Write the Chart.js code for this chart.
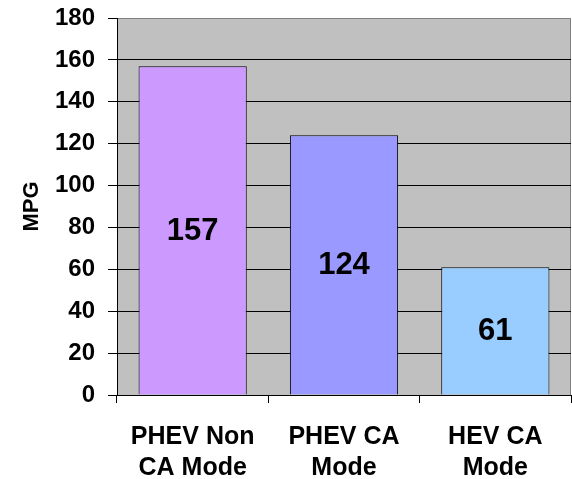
<!DOCTYPE html>
<html>
<head>
<meta charset="utf-8">
<script src="https://cdn.jsdelivr.net/npm/chart.js@4/dist/chart.umd.min.js"></script>
<style>
  body { margin: 0; background: #fff; }
  #wrap { width: 572px; height: 479px; }
</style>
</head>
<body>
<div id="wrap"><canvas id="bar"></canvas></div>
<script>
/* DATA */
const categories = [["PHEV Non", "CA Mode"], ["PHEV CA", "Mode"], ["HEV CA", "Mode"]];
const mpgValues = [157, 124, 61];
const barColors = ["#CC99FF", "#9999FF", "#99CCFF"];

/* plot area background + frame */
const plotBg = {
  id: "plotBg",
  beforeDraw(chart) {
    const { ctx, chartArea: a } = chart;
    ctx.save();
    ctx.fillStyle = "#C0C0C0";
    ctx.fillRect(a.left, a.top, a.right - a.left, a.bottom - a.top);
    ctx.strokeStyle = "#808080";
    ctx.lineWidth = 1;
    ctx.strokeRect(a.left + 0.5, a.top + 0.5, a.right - a.left - 1, a.bottom - a.top);
    ctx.restore();
  }
};

/* value labels in the middle of each bar */
const valueLabels = {
  id: "valueLabels",
  afterDatasetsDraw(chart) {
    const ctx = chart.ctx;
    const meta = chart.getDatasetMeta(0);
    ctx.save();
    ctx.font = "bold 31px 'Liberation Sans', Arial, sans-serif";
    ctx.fillStyle = "#000";
    ctx.textAlign = "center";
    ctx.textBaseline = "middle";
    meta.data.forEach((bar, i) => {
      ctx.fillText(String(mpgValues[i]), bar.x, (bar.y + bar.base) / 2 + 1);
    });
    ctx.restore();
  }
};

const barCtx = document.getElementById("bar");
new Chart(barCtx, {
  type: "bar",
  data: {
    labels: categories,
    datasets: [{
      data: mpgValues,
      backgroundColor: barColors,
      borderColor: "#000",
      borderWidth: 1,
      barPercentage: 0.715,
      categoryPercentage: 1
    }]
  },
  options: {
    responsive: true,
    maintainAspectRatio: false,
    animation: false,
    layout: {
      padding: { top: 18, right: 1, bottom: 0, left: 0 }
    },
    scales: {
      x: {
        afterFit: function (scale) { scale.height = 84; },
        border: { color: "#000" },
        grid: {
          offset: true,
          drawOnChartArea: false,
          color: "#000",
          tickLength: 8
        },
        ticks: {
          color: "#000",
          padding: 18,
          maxRotation: 0,
          font: { family: "'Liberation Sans', Arial, sans-serif", size: 25, weight: "bold", lineHeight: 1.25 }
        }
      },
      y: {
        min: 0,
        max: 180,
        afterFit: function (scale) {
          scale.width = 117;
          scale.paddingTop = 0;
          scale.paddingBottom = 0;
        },
        border: { color: "#000" },
        grid: {
          color: function (c) { return c.tick && c.tick.value === 180 ? "#808080" : "#000"; },
          tickColor: "#000",
          tickLength: 9
        },
        ticks: {
          stepSize: 20,
          color: "#000",
          padding: 13,
          font: { family: "'Liberation Sans', Arial, sans-serif", size: 24, weight: "bold" }
        },
        title: {
          display: true,
          text: "MPG",
          color: "#000",
          padding: { top: 19, bottom: 0 },
          font: { family: "'Liberation Sans', Arial, sans-serif", size: 22, weight: "bold" }
        }
      }
    },
    plugins: {
      legend: { display: false },
      tooltip: { enabled: false }
    }
  },
  plugins: [plotBg, valueLabels]
});
</script>
</body>
</html>
